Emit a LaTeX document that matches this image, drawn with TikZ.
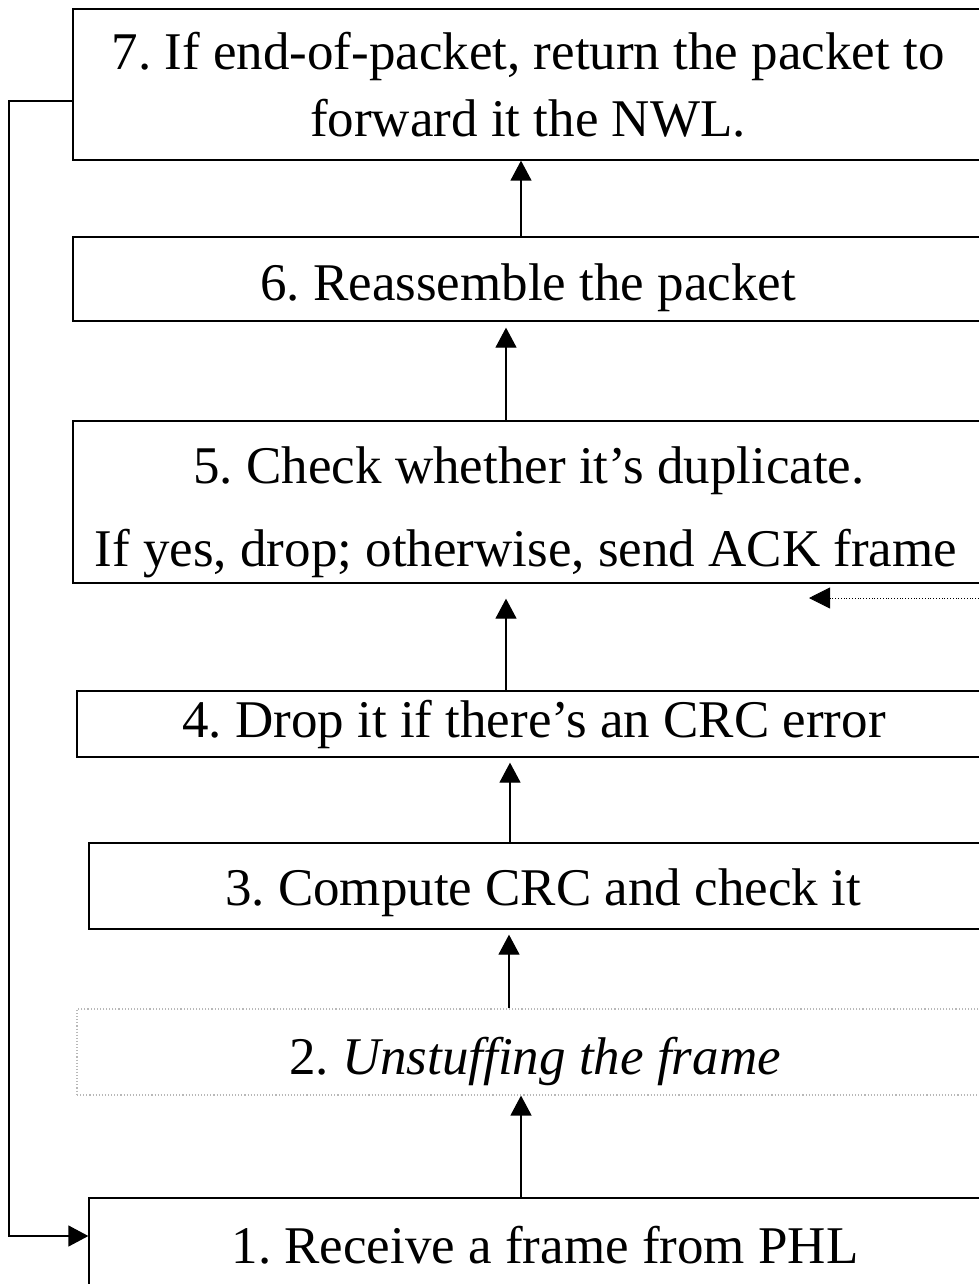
\documentclass[tikz,border=0pt]{standalone}
\usepackage{fontspec}
\setmainfont{Liberation Serif}
\usetikzlibrary{arrows.meta}
\frenchspacing

\tikzset{
  stage/.style={draw, line width=1.3pt, rectangle, inner sep=0pt},
  softstage/.style={draw=black!28, dotted, line width=1.1pt, rectangle, inner sep=0pt},
  caption/.style={anchor=base, inner sep=0pt, font=\fontsize{53}{64}\selectfont},
  arr/.style={line width=1.3pt, -{Triangle[width=21pt,length=20pt]}},
  ackarr/.style={line width=0.8pt, dotted, -{Triangle[width=21pt,length=21pt]}},
}

\begin{document}
\begin{tikzpicture}[x=1pt, y=-1pt]
\clip (0,0) rectangle (979,1284);
\fill[white] (0,0) rectangle (979,1284);

% stage boxes (they run past the right edge of the sheet)
\node[stage, minimum width=910pt, minimum height=151pt] (b7) at (528,84.5) {};
\node[stage, minimum width=910pt, minimum height=84pt]  (b6) at (528,279) {};
\node[stage, minimum width=910pt, minimum height=162pt] (b5) at (528,502) {};
\node[stage, minimum width=914pt, minimum height=66pt]  (b4) at (534,724) {};
\node[stage, minimum width=908pt, minimum height=86pt]  (b3) at (543,886) {};
\node[softstage, minimum width=916pt, minimum height=86pt] (b2) at (535,1052) {};
\node[stage, minimum width=912pt, minimum height=94pt]  (b1) at (545,1245) {};

% stage texts
\node[caption] (t7a) at (528,70)  {7. If end-of-packet, return the packet to};
\node[caption] (t7b) at (528,137) {forward it the NWL.};
\node[caption] (t6)  at (528,300) {6. Reassemble the packet};
\node[caption] (t5a) at (529,483) {5. Check whether it’s duplicate.};
\node[caption] (t5b) at (526,566) {If yes, drop; otherwise, send ACK frame};
\node[caption] (t4)  at (534,737) {4. Drop it if there’s an CRC error};
\node[caption] (t3)  at (543,905) {3. Compute CRC and check it};
\node[caption] (t2)  at (535,1074) {2. \textit{Unstuffing the frame}};
\node[caption] (t1)  at (545,1263) {1. Receive a frame from PHL};

% upward flow between stages
\draw[arr] (b1.north -| 521,0) -- (b2.south -| 521,0);
\draw[arr] (b2.north -| 509,0) -- ([yshift=-5pt]b3.south -| 509,0);
\draw[arr] (b3.north -| 510,0) -- ([yshift=-5pt]b4.south -| 510,0);
\draw[arr] (b4.north -| 506,0) -- ([yshift=-15pt]b5.south -| 506,0);
\draw[arr] (b5.north -| 506,0) -- ([yshift=-6pt]b6.south -| 506,0);
\draw[arr] (b6.north -| 521,0) -- (b7.south -| 521,0);

% incoming ACK from the right
\coordinate (ackin) at (990,598);
\coordinate (acktip) at (809,598);
\draw[ackarr] (ackin) -- (acktip);

% loop back from stage 7 to stage 1
\draw[arr] (b7.west |- 0,101) -- (9,101) -- (9,1236) -- (b1.west |- 0,1236);
\end{tikzpicture}
\end{document}
